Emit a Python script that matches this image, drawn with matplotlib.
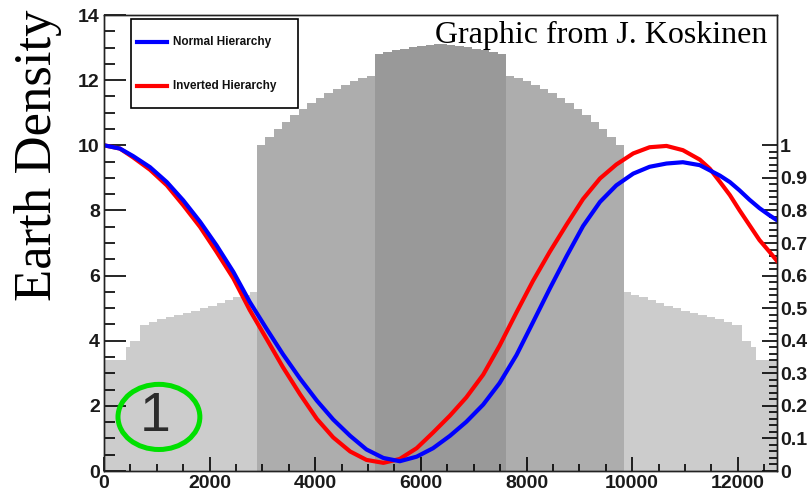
import matplotlib
matplotlib.use("Agg")
import matplotlib.pyplot as plt
from matplotlib.patches import Ellipse, Rectangle
from matplotlib.lines import Line2D
from matplotlib.font_manager import FontProperties
from matplotlib.ticker import MultipleLocator, FixedLocator
import numpy as np

# ── Earth density along the path (histogram bins, g/cm^3) ─────────────────────
mantle_l_edges = [0, 410, 500, 690, 850, 1010, 1170, 1330, 1490, 1650, 1810,
                  1970, 2130, 2290, 2450, 2610, 2770]
mantle_l_rho = [3.41, 3.82, 3.98, 4.47, 4.58, 4.66, 4.72, 4.78, 4.84, 4.91,
                4.99, 5.08, 5.17, 5.25, 5.33, 5.41, 5.50]
outer_l_edges = [2890, 3050, 3210, 3370, 3530, 3690, 3850, 4010, 4170, 4330,
                 4490, 4650, 4810, 4970]
outer_l_rho = [10.00, 10.25, 10.50, 10.72, 10.92, 11.12, 11.30, 11.46, 11.60,
               11.73, 11.85, 11.96, 12.06, 12.14]
inner_edges = [5130, 5290, 5450, 5610, 5770, 5930, 6090, 6250, 6492, 6652,
               6812, 6972, 7132, 7292, 7452]
inner_rho = [12.80, 12.86, 12.92, 12.97, 13.02, 13.06, 13.09, 13.12, 13.09,
             13.06, 13.02, 12.97, 12.92, 12.86, 12.80]
outer_r_edges = [7612, 7772, 7932, 8092, 8252, 8412, 8572, 8732, 8892, 9052,
                 9212, 9372, 9532, 9692]
outer_r_rho = [12.14, 12.06, 11.96, 11.85, 11.73, 11.60, 11.46, 11.30, 11.12,
               10.92, 10.72, 10.50, 10.25, 10.00]
mantle_r_edges = [9852, 9972, 10132, 10292, 10452, 10612, 10772, 10932, 11092,
                  11252, 11412, 11572, 11732, 11892, 12080, 12250, 12350]
mantle_r_rho = [5.50, 5.41, 5.33, 5.25, 5.17, 5.08, 4.99, 4.91, 4.84, 4.78,
                4.72, 4.66, 4.58, 4.47, 3.98, 3.82, 3.41]
earth_diameter = 12742

# ── oscillation probability ──────────────────────────────────────────────────
dist_km = [0, 300, 550, 870, 1190, 1500, 1820, 2130, 2450, 2760,
           3080, 3390, 3710, 4030, 4340, 4660, 4970, 5290, 5600, 5920,
           6230, 6550, 6860, 7180, 7490, 7810, 8120, 8440, 8760, 9070,
           9390, 9700, 10020, 10330, 10650, 10960, 11280, 11470, 11660, 11850,
           12030, 12220, 12410, 12600, 12742]
p_normal = [1.0, 0.99, 0.967, 0.933, 0.887, 0.831, 0.765, 0.693, 0.611, 0.519,
            0.436, 0.358, 0.284, 0.216, 0.158, 0.108, 0.066, 0.040, 0.030, 0.044,
            0.070, 0.108, 0.151, 0.204, 0.270, 0.356, 0.456, 0.560, 0.660, 0.752,
            0.826, 0.877, 0.913, 0.934, 0.944, 0.948, 0.939, 0.923, 0.907, 0.887,
            0.862, 0.833, 0.807, 0.785, 0.770]
p_inverted = [1.0, 0.99, 0.963, 0.925, 0.877, 0.816, 0.749, 0.673, 0.591, 0.494,
              0.405, 0.318, 0.236, 0.160, 0.103, 0.060, 0.034, 0.025, 0.037, 0.070,
              0.118, 0.170, 0.226, 0.296, 0.385, 0.487, 0.583, 0.673, 0.757, 0.835,
              0.898, 0.941, 0.975, 0.994, 0.998, 0.985, 0.956, 0.928, 0.888, 0.847,
              0.801, 0.755, 0.709, 0.673, 0.645]

x_ticks = [0, 2000, 4000, 6000, 8000, 10000, 12000]
rho_ticks = [0, 2, 4, 6, 8, 10, 12, 14]
p_ticks = [0, 0.1, 0.2, 0.3, 0.4, 0.5, 0.6, 0.7, 0.8, 0.9, 1.0]
p_tick_labels = ["0", "0.1", "0.2", "0.3", "0.4", "0.5", "0.6", "0.7", "0.8", "0.9", "1"]

LAYER_COLOR = {"mantle": "#cccccc", "outer": "#adadad", "inner": "#999999"}
TICK_FONT = dict(family="Liberation Sans", size=14, weight="bold")
SERIF = "Liberation Serif"

fig = plt.figure(figsize=(8.12, 5.01), dpi=100)
ax = fig.add_axes([104 / 812, 30 / 501, 673 / 812, 456 / 501])

# one bar block per layer, bins run edge to next edge
layers = [("mantle", mantle_l_edges, mantle_l_rho),
          ("outer", outer_l_edges, outer_l_rho),
          ("inner", inner_edges, inner_rho),
          ("outer", outer_r_edges, outer_r_rho),
          ("mantle", mantle_r_edges, mantle_r_rho)]
all_edges = [e for _, edges, _ in layers for e in edges] + [earth_diameter]
pos = 0
for name, edges, rho in layers:
    widths = np.diff(all_edges[pos:pos + len(edges) + 1])
    ax.bar(edges, rho, width=widths, align="edge", color=LAYER_COLOR[name],
           linewidth=0, antialiased=False, zorder=1)
    pos += len(edges)

ax.set_xlim(0, earth_diameter)
ax.set_ylim(0, 14)
ax.set_xticks(x_ticks)
ax.set_yticks(rho_ticks)
ax.xaxis.set_minor_locator(MultipleLocator(500))
ax.yaxis.set_minor_locator(MultipleLocator(0.5))
ax.tick_params(axis="x", which="major", direction="in", length=10, width=1.2, pad=3)
ax.tick_params(axis="x", which="minor", direction="in", length=5, width=1.2)
ax.tick_params(axis="y", which="major", direction="in", length=16, width=1.2, pad=3)
ax.tick_params(axis="y", which="minor", direction="in", length=8, width=1.2)
for sp in ax.spines.values():
    sp.set_linewidth(1.0)
    sp.set_color("#222222")

# green ring around the "1"
ax.add_patch(Ellipse((1040, 1.66), width=1550, height=2.0, fill=False,
                     edgecolor="#00e000", linewidth=3.6, zorder=3))
ax.text(960, 1.66, "1", ha="center", va="center", fontsize=40,
        family="Liberation Sans", color="#2b2b2b", zorder=3)

# probability axis on the right
ax2 = ax.twinx()
ax2.set_ylim(0, 1.4)
ax2.plot(dist_km, p_inverted, color="#ff0000", linewidth=3.0)
ax2.plot(dist_km, p_normal, color="#0000ff", linewidth=3.0)
ax2.set_yticks(p_ticks)
ax2.set_yticklabels(p_tick_labels)
ax2.yaxis.set_minor_locator(FixedLocator(np.linspace(0, 1, 51)))
ax2.tick_params(axis="y", which="major", direction="in", length=11, width=1.2, pad=2)
ax2.tick_params(axis="y", which="minor", direction="in", length=5.5, width=1.2)
for sp in ax2.spines.values():
    sp.set_linewidth(1.0)
    sp.set_color("#222222")

for lab in ax.get_xticklabels() + ax.get_yticklabels() + ax2.get_yticklabels():
    lab.set_fontproperties(FontProperties(**TICK_FONT))
    lab.set_color("#1a1a1a")

# legend box drawn the ROOT way
ax2.add_patch(Rectangle((0.040, 0.796), 0.249, 0.195, transform=ax2.transAxes,
                        facecolor="white", edgecolor="black", linewidth=1.2, zorder=5))
for yy, col, name in [(0.941, "#0000ff", "Normal Hierarchy"),
                      (0.844, "#ff0000", "Inverted Hierarchy")]:
    ax2.add_line(Line2D([0.049, 0.094], [yy, yy], transform=ax2.transAxes,
                        color=col, linewidth=3.0, zorder=6))
    ax2.text(0.1025, yy, name, transform=ax2.transAxes, ha="left", va="center",
             fontsize=8.5, fontweight="bold", family="Liberation Sans",
             color="#111111", zorder=6)

fig.text(767 / 812, 1 - 42.5 / 501, "Graphic from J. Koskinen", ha="right",
         va="baseline", fontsize=23, family=SERIF)
fig.text(38 / 812, 1 - 155 / 501, "Earth Density", rotation=90, ha="center",
         va="center", fontsize=38, family=SERIF)

fig.savefig("out.png", dpi=100)
